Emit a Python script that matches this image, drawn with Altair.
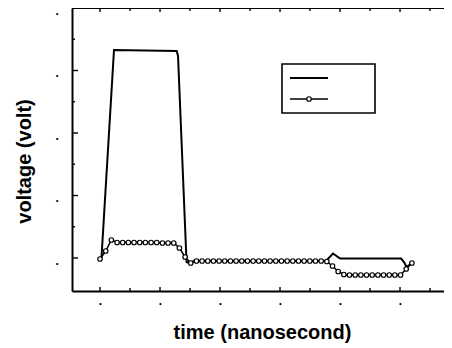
import altair as alt
import pandas as pd

# ---- data (x in major-tick units, y in major-tick units) ----
t_circ = [0.000, 0.095, 0.189, 0.284, 0.378, 0.473, 0.567, 0.662, 0.756, 0.851,
          0.945, 1.040, 1.134, 1.229, 1.323, 1.418, 1.512, 1.607, 1.701, 1.796,
          1.890, 1.985, 2.079, 2.174, 2.268, 2.363, 2.457, 2.552, 2.646, 2.741,
          2.835, 2.930, 3.024, 3.119, 3.213, 3.308, 3.402, 3.497, 3.591, 3.686,
          3.780, 3.875, 3.969, 4.064, 4.158, 4.253, 4.347, 4.442, 4.536, 4.631,
          4.725, 4.820, 4.914, 5.009, 5.103, 5.198]
v_circ = [-0.016, 0.112, 0.288, 0.248, 0.248, 0.248, 0.248, 0.248, 0.248, 0.248,
          0.248, 0.240, 0.240, 0.240, 0.160, 0.016, -0.080, -0.048, -0.048, -0.048,
          -0.048, -0.048, -0.048, -0.048, -0.048, -0.048, -0.048, -0.048, -0.048, -0.048,
          -0.048, -0.048, -0.048, -0.048, -0.048, -0.048, -0.048, -0.048, -0.048, -0.048,
          -0.056, -0.128, -0.216, -0.264, -0.272, -0.272, -0.272, -0.272, -0.272, -0.272,
          -0.272, -0.272, -0.272, -0.272, -0.176, -0.080]

t_solid = [0.000, 0.025, 0.233, 1.278, 1.300, 1.442, 1.483, 1.567, 3.767, 3.883,
           4.000, 5.017, 5.067, 5.108, 5.200]
v_solid = [-0.016, 0.016, 3.328, 3.312, 3.232, -0.064, -0.080, -0.048, -0.048, 0.072,
           -0.008, -0.008, -0.064, -0.144, -0.080]

x_major = [0, 1, 2, 3, 4, 5]
x_minor = [0.5, 1.5, 2.5, 3.5, 4.5, 5.5]
y_major = [0, 1, 2, 3, 4]
y_minor = [0.5, 1.5, 2.5, 3.5]
tick_label = "\u2022"

# ---- layout ----
W, H = 372, 283
XDOM = [-0.467, 5.733]
YDOM = [-0.528, 4.0]
FONT = "Liberation Sans"

circ = pd.DataFrame({"t": t_circ, "v": v_circ})
solid = pd.DataFrame({"t": t_solid, "v": v_solid})
xmaj = pd.DataFrame({"t": x_major})
xmin = pd.DataFrame({"t": x_minor})
ymaj = pd.DataFrame({"v": y_major})
ymin = pd.DataFrame({"v": y_minor})
one = pd.DataFrame({"a": [0]})

xs = alt.Scale(domain=XDOM, nice=False, zero=False)
ys = alt.Scale(domain=YDOM, nice=False, zero=False)

xaxis = alt.Axis(values=x_major, labelExpr=f"'{tick_label}'", ticks=False, tickSize=0, grid=False,
                 domainColor="black", domainWidth=2,
                 labelFont=FONT, labelFontSize=8, labelColor="black",
                 labelBaseline="middle", labelPadding=12, labelFlush=False, labelOverlap=False,
                 title="time (nanosecond)", titleFont=FONT, titleFontSize=20, titleFontWeight="bold",
                 titleColor="black", titleX=190, titleY=47, titleAlign="center",
                 titleBaseline="alphabetic")
yaxis = alt.Axis(values=y_major, labelExpr=f"'{tick_label}'", ticks=False, tickSize=0, grid=False,
                 domainColor="black", domainWidth=2,
                 labelFont=FONT, labelFontSize=8, labelColor="black",
                 labelAlign="right", labelBaseline="middle", labelPadding=14, labelOffset=5,
                 labelFlush=False, labelOverlap=False,
                 title="voltage (volt)", titleFont=FONT, titleFontSize=20, titleFontWeight="bold",
                 titleColor="black", titleAngle=270, titleX=-42, titleY=153, titleAlign="center",
                 titleBaseline="alphabetic")

X = lambda: alt.X("t:Q", scale=xs, axis=xaxis)
Y = lambda: alt.Y("v:Q", scale=ys, axis=yaxis)

solid_line = alt.Chart(solid).mark_line(color="black", strokeWidth=2).encode(x=X(), y=Y())
circ_line = alt.Chart(circ).mark_line(color="black", strokeWidth=1.5).encode(x=X(), y=Y())
circ_pts = alt.Chart(circ).mark_point(shape="circle", filled=True, fill="white", stroke="black",
                                      strokeWidth=1.2, size=20, opacity=1).encode(x=X(), y=Y())

tick_style = dict(color="black", strokeWidth=1.4)
bot_maj = alt.Chart(xmaj).mark_rule(**tick_style).encode(
    x=X(), y=alt.value(H), y2=alt.value(H - 4))
bot_min = alt.Chart(xmin).mark_rule(**tick_style).encode(
    x=X(), y=alt.value(H), y2=alt.value(H - 3))
top_maj = alt.Chart(xmaj).mark_rule(**tick_style).encode(
    x=X(), y=alt.value(0), y2=alt.value(4))
top_min = alt.Chart(xmin).mark_rule(**tick_style).encode(
    x=X(), y=alt.value(0), y2=alt.value(3))
left_maj = alt.Chart(ymaj).mark_rule(**tick_style).encode(
    y=Y(), x=alt.value(0), x2=alt.value(6))
left_min = alt.Chart(ymin).mark_rule(**tick_style).encode(
    y=Y(), x=alt.value(0), x2=alt.value(3))
top_frame = alt.Chart(one).mark_rule(color="black", strokeWidth=2).encode(
    x=alt.value(0), x2=alt.value(W), y=alt.value(0))

leg_box = alt.Chart(one).mark_rect(fill="white", stroke="black", strokeWidth=1.6).encode(
    x=alt.value(210), x2=alt.value(303), y=alt.value(56), y2=alt.value(105))
leg_solid = alt.Chart(one).mark_rule(color="black", strokeWidth=2).encode(
    x=alt.value(218), x2=alt.value(256), y=alt.value(70))
leg_circ = alt.Chart(one).mark_rule(color="black", strokeWidth=1.5).encode(
    x=alt.value(218), x2=alt.value(256), y=alt.value(91))
leg_pt = alt.Chart(one).mark_point(shape="circle", filled=True, fill="white", stroke="black",
                                   strokeWidth=1.2, size=20, opacity=1).encode(
    x=alt.value(237), y=alt.value(91))

chart = alt.layer(
    solid_line, circ_line, circ_pts,
    bot_maj, bot_min, top_maj, top_min, left_maj, left_min, top_frame,
    leg_box, leg_solid, leg_circ, leg_pt,
).properties(
    width=W, height=H,
    autosize=alt.AutoSizeParams(type="none"),
    padding={"left": 64, "top": 0, "right": 0, "bottom": 54},
    background="white",
).configure_view(stroke=None)

chart.save("out.html", embed_options={"renderer": "svg", "actions": False})
